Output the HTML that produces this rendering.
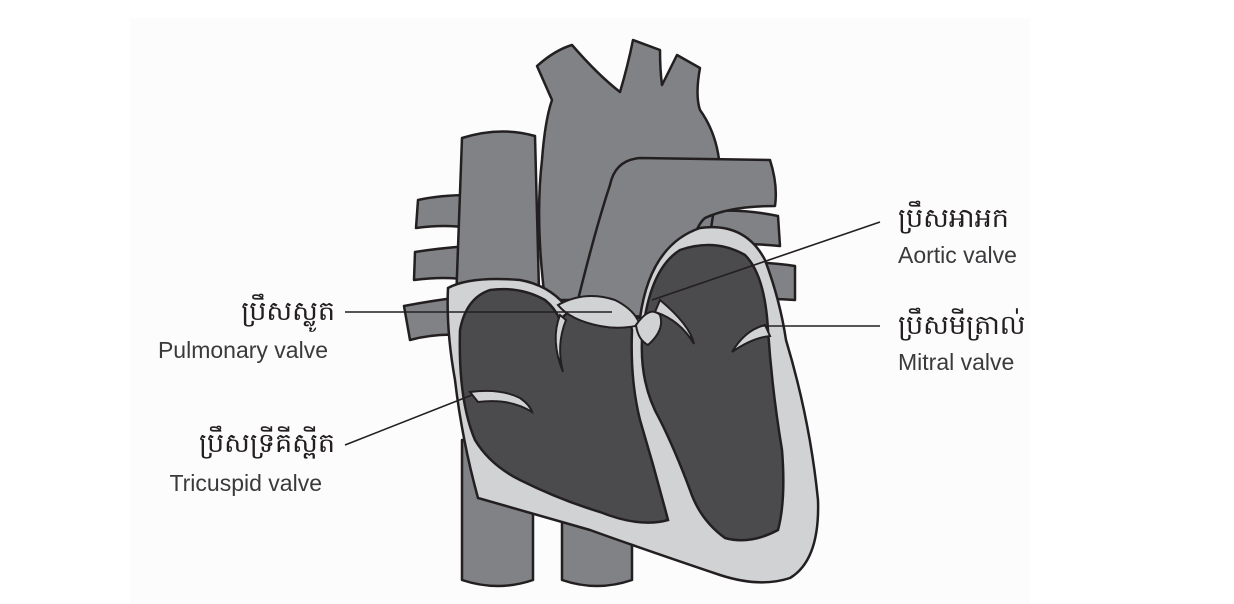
<!DOCTYPE html>
<html><head><meta charset="utf-8"><style>
html,body{margin:0;padding:0;background:#fff}
svg{display:block}
.k{font-family:"Liberation Sans","Noto Sans CJK SC",sans-serif;font-size:27px;fill:#231f20}
.e{font-family:"Liberation Sans",sans-serif;font-size:23px;fill:#3a3a3c}
</style></head><body>
<svg width="1234" height="604" viewBox="0 0 1234 604" xmlns="http://www.w3.org/2000/svg">
<rect x="130" y="18" width="900" height="586" fill="#fcfcfc"/>
<g stroke="#231f20" stroke-width="2.5" stroke-linejoin="round" fill="#808285">
<path d="M462,440 L533,440 L533,580 Q498,592 462,580 Z"/>
<path d="M562,470 L632,470 L632,580 Q597,592 562,580 Z"/>
<path d="M470,195 Q440,195 418,200 L416,228 Q445,224 470,228 Z"/>
<path d="M470,246 Q440,248 415,252 L414,280 Q445,276 470,280 Z"/>
<path d="M470,296 Q435,300 404,306 L410,340 Q440,332 470,336 Z"/>
<path d="M700,212 Q740,208 778,216 L780,246 Q740,242 700,246 Z"/>
<path d="M740,262 Q770,262 795,266 L795,300 Q770,298 740,300 Z"/>
<path d="M462,138 Q500,126 535,136 L540,330 L455,330 Z"/>
<path d="M545,300 Q535,220 542,160 Q545,120 552,100 L537,66 Q555,50 572,45 Q598,75 620,92 Q628,65 633,40 L660,50 Q660,70 662,85 L677,55 L700,68 Q695,95 700,110 Q718,135 720,170 L700,300 Z"/>
<path d="M575,312 Q595,230 610,185 Q615,160 640,158 L770,160 Q778,185 775,206 Q730,206 705,218 Q690,230 680,300 L660,318 Z"/>
</g>
<path d="M448,288 Q470,276 520,280 Q548,285 565,305 L640,318 Q650,245 700,228 Q745,222 765,260 Q780,300 786,340 Q810,420 818,500 Q820,560 790,578 Q760,588 720,575 Q640,548 590,530 Q520,510 478,498 Q462,440 455,380 Q446,330 448,288 Z" fill="#d1d2d4" stroke="#231f20" stroke-width="2.5"/>
<path d="M460,330 Q466,298 490,290 Q520,286 545,300 Q555,308 560,320 Q575,302 605,305 Q628,310 632,330 Q630,380 640,420 Q655,470 668,520 Q640,528 600,512 Q560,500 520,480 Q490,465 475,440 Q458,400 460,330 Z" fill="#4b4b4e" stroke="#231f20" stroke-width="2.5"/>
<path d="M642,340 Q648,270 680,250 Q715,238 745,255 Q765,275 768,330 Q772,390 782,450 Q786,500 778,530 Q750,545 725,538 Q700,520 690,490 Q675,450 660,420 Q640,385 642,340 Z" fill="#4b4b4e" stroke="#231f20" stroke-width="2.5"/>
<g fill="#d1d2d4" stroke="#231f20" stroke-width="2">
<path d="M558,305 Q585,290 615,300 Q635,310 640,325 Q620,330 600,326 Q570,320 558,305 Z"/>
<path d="M636,325 Q650,305 660,315 Q665,330 648,345 Q638,340 636,325 Z"/>
<path d="M560,315 Q550,340 563,372 Q556,345 566,320 Z"/>
<path d="M660,300 Q690,325 694,344 Q680,320 655,312 Z"/>
<path d="M765,325 Q745,330 732,352 Q752,338 770,336 Z"/>
<path d="M470,392 Q500,388 520,398 Q530,405 532,412 Q510,398 478,402 Z"/>
</g>
<g stroke="#231f20" stroke-width="1.6">
<line x1="345" y1="312" x2="612" y2="312"/>
<line x1="345" y1="445" x2="472" y2="395"/>
<line x1="880" y1="222" x2="652" y2="300"/>
<line x1="880" y1="326" x2="760" y2="326"/>
</g>
<text class="k" x="335" y="320" text-anchor="end">ប្រឹសស្លូត</text>
<text class="e" x="328" y="358" text-anchor="end">Pulmonary valve</text>
<text class="k" x="335" y="452" text-anchor="end">ប្រឹសទ្រីគីស្ពីត</text>
<text class="e" x="322" y="491" text-anchor="end">Tricuspid valve</text>
<text class="k" x="898" y="227">ប្រឹសអាអក</text>
<text class="e" x="898" y="263">Aortic valve</text>
<text class="k" x="898" y="334">ប្រឹសមីត្រាល់</text>
<text class="e" x="898" y="370">Mitral valve</text>
</svg>
</body></html>
